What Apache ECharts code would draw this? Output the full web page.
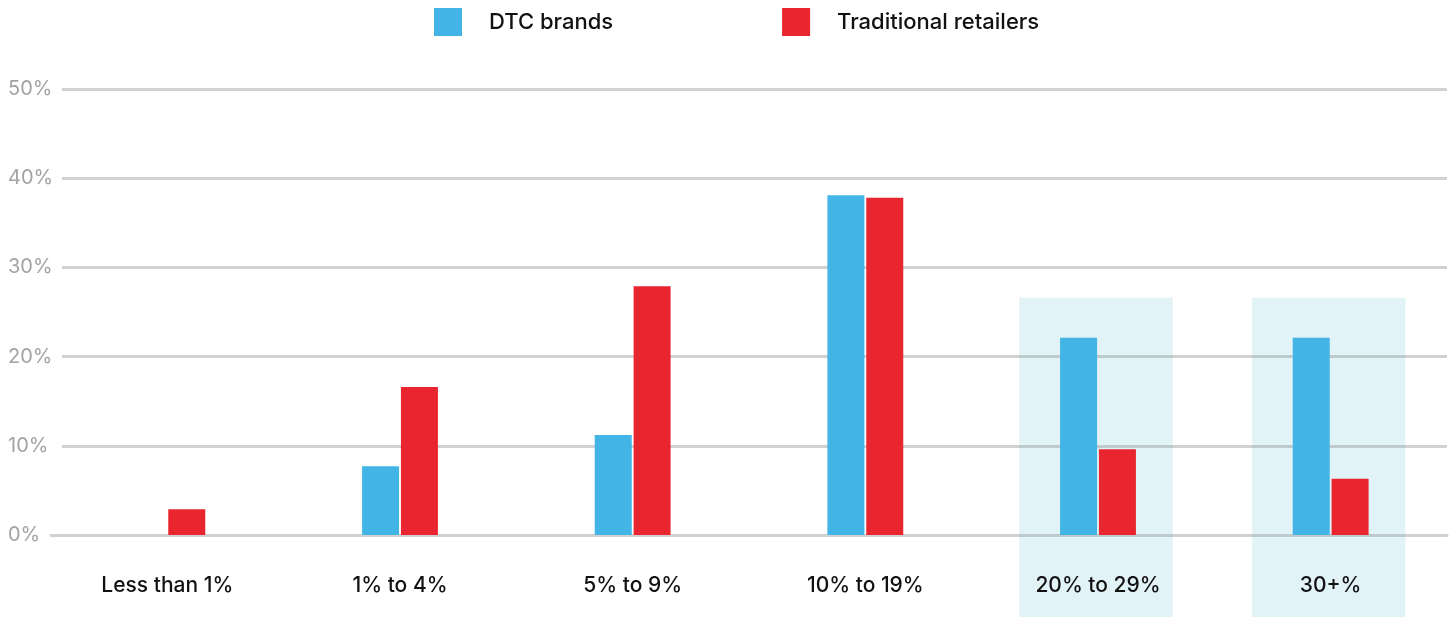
<!DOCTYPE html>
<html>
<head>
<meta charset="utf-8">
<script src="https://cdn.jsdelivr.net/npm/echarts@6/dist/echarts.min.js"></script>
<style>
html,body{margin:0;padding:0;background:#fff;}
#chart{width:1452px;height:617px;}
</style>
</head>
<body>
<div id="chart"></div>
<script>
const categories = ['Less than 1%', '1% to 4%', '5% to 9%', '10% to 19%', '20% to 29%', '30+%'];
const seriesNames = ['DTC brands', 'Traditional retailers'];
const dtcValues = [0, 7.7, 11.2, 38.1, 22.1, 22.1];
const tradValues = [2.9, 16.6, 27.9, 37.8, 9.6, 6.3];
const highlightedCategories = ['20% to 29%', '30+%'];
const highlightTopValue = 26.6;

const FONT = 'Inter';
const LINE = 'rgba(140,140,140,0.4)';
const chart = echarts.init(document.getElementById('chart'), null, {renderer: 'canvas'});

const option = {
  animation: false,
  backgroundColor: '#ffffff',
  textStyle: {fontFamily: FONT},
  legend: {
    left: 429, top: 3,
    itemWidth: 28, itemHeight: 28, itemGap: 169,
    icon: 'rect',
    textStyle: {fontFamily: FONT, fontSize: 22, fontWeight: 500, color: '#111', padding: [0, 0, 0, 22]},
    data: seriesNames
  },
  grid: [
    {left: 51, right: 5, top: 89, bottom: 82, containLabel: false},
    {left: 62, right: 5, top: 89, bottom: 82, containLabel: false}
  ],
  xAxis: [
    {
      type: 'category', gridIndex: 0,
      data: categories,
      axisLine: {show: true, lineStyle: {color: LINE, width: 3}},
      axisTick: {show: false},
      axisLabel: {color: '#111', fontSize: 21, fontWeight: 500, fontFamily: FONT, margin: 40, interval: 0},
      z: 1
    },
    {type: 'value', gridIndex: 1, show: false, min: 0, max: 1}
  ],
  yAxis: [
    {
      type: 'value', gridIndex: 0, min: 0, max: 50, interval: 10,
      axisLine: {show: false},
      axisTick: {show: false},
      axisLabel: {formatter: '{value}%', color: '#a3a3a3', fontSize: 20, fontFamily: FONT, align: 'left', margin: 43},
      splitLine: {show: false}
    },
    {
      type: 'value', gridIndex: 1, min: 0, max: 50, interval: 10,
      axisLine: {show: false},
      axisTick: {show: false},
      axisLabel: {show: false},
      splitLine: {lineStyle: {color: ['rgba(0,0,0,0)', LINE, LINE, LINE, LINE, LINE], width: 3}}
    }
  ],
  series: [
    {name: seriesNames[0], type: 'bar', xAxisIndex: 0, yAxisIndex: 0, data: dtcValues, barWidth: 37, barGap: '5%', itemStyle: {color: '#42B4E6'}, z: 3},
    {name: seriesNames[1], type: 'bar', xAxisIndex: 0, yAxisIndex: 0, data: tradValues, barWidth: 37, barGap: '5%', itemStyle: {color: '#E92630'}, z: 3}
  ]
};
chart.setOption(option);

function drawHighlights() {
  const h = chart.getHeight();
  const p0 = chart.convertToPixel({xAxisIndex: 0, yAxisIndex: 0}, [0, 0]);
  const p1 = chart.convertToPixel({xAxisIndex: 0, yAxisIndex: 0}, [1, 0]);
  const band = p1[0] - p0[0];
  const w = band * 0.66;
  const elements = highlightedCategories.map(function (c) {
    const idx = categories.indexOf(c);
    const top = chart.convertToPixel({xAxisIndex: 0, yAxisIndex: 0}, [idx, highlightTopValue]);
    return {
      type: 'rect', z: -10, silent: true,
      shape: {x: top[0] - w / 2 - 2, y: top[1], width: w, height: h - top[1]},
      style: {fill: '#E2F3F7'}
    };
  });
  chart.setOption({graphic: {elements: elements}});
}
drawHighlights();
</script>
</body>
</html>
